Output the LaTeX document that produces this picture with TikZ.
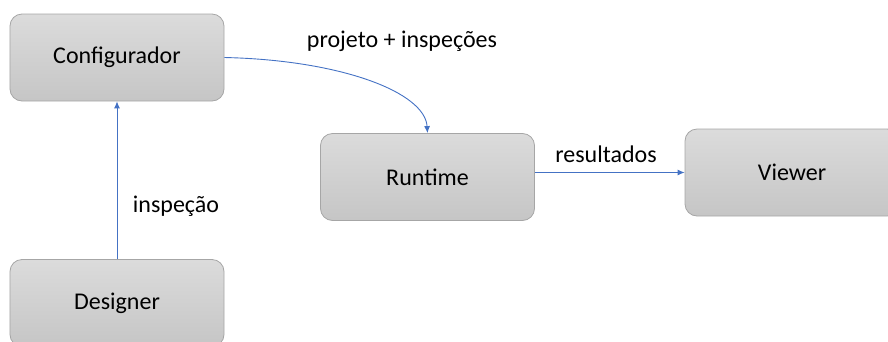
\documentclass[tikz,border=0pt]{standalone}
\usepackage{fontspec}
\setmainfont{Carlito}
\usetikzlibrary{arrows.meta,shadows}
\definecolor{arrowblue}{HTML}{4472C4}
\definecolor{boxedge}{HTML}{A6A6A6}
\tikzset{
  box/.style={draw=boxedge, line width=0.8bp, rounded corners=12bp,
    top color=gray!28, bottom color=gray!45,
    minimum width=214bp, minimum height=87bp, inner sep=0pt,
    font=\fontsize{24bp}{28bp}\selectfont},
  conn/.style={draw=arrowblue, line width=0.9bp, -{Latex[length=7bp,width=6bp]}},
  lbl/.style={font=\fontsize{24bp}{28bp}\selectfont, inner sep=0pt}
}
\begin{document}
\begin{tikzpicture}[x=1bp,y=-1bp]
\useasboundingbox (0,0) rectangle (888,341);
\node[box] (conf) at (117,57.5) {Configurador};
\node[box] (run) at (427.5,177) {Runtime};
\node[box] (view) at (792,172.5) {Viewer};
\node[box] (des) at (117,303) {Designer};
\draw[conn] (conf.east) .. controls (340,60) and (425,92) .. (run.north);
\draw[conn] (des.north) -- (conf.south);
\draw[conn] (run.east |- view.west) -- (view.west);
\node[lbl] (l1) at (402,41) {projeto + inspeções};
\node[lbl] (l2) at (176,206) {inspeção};
\node[lbl] (l3) at (606,154) {resultados};
\end{tikzpicture}
\end{document}
